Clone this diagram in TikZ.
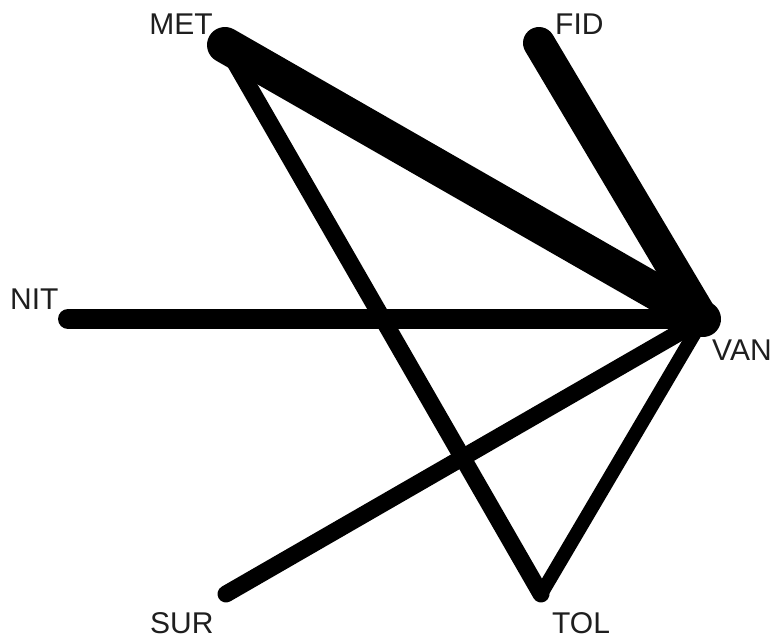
\documentclass[tikz,border=0pt]{standalone}
\usepackage{fontspec}
\setmainfont{Liberation Sans}
\usepackage{tikz}
\usetikzlibrary{positioning,calc}
\definecolor{Ink}{RGB}{0,0,0}
\definecolor{LabelInk}{RGB}{30,30,30}
\tikzset{
  tie/.style={draw=Ink,line cap=round},
  heavytie/.style={tie,line width=36pt},
  strongtie/.style={tie,line width=32pt},
  midtie/.style={tie,line width=20pt},
  lighttie/.style={tie,line width=17pt},
  thintie/.style={tie,line width=14pt},
  varlabel/.style={inner sep=0pt,text=LabelInk,font=\fontsize{30}{30}\selectfont}
}
\begin{document}
\begin{tikzpicture}[x=1pt,y=-1pt]
\fill[white] (0,0) rectangle (778,639);
\useasboundingbox (0,0) rectangle (778,639);
\coordinate (MET) at (225,45);
\coordinate (FID) at (539,43);
\coordinate (NIT) at (68,319);
\coordinate (VAN) at (703,319);
\coordinate (SUR) at (226,594);
\coordinate (TOL) at (541,594);

\draw[thintie](TOL)--(VAN);\draw[lighttie](MET)--(TOL);\draw[lighttie](SUR)--(VAN);\draw[midtie](NIT)--(VAN);
\draw[strongtie](FID)--(VAN);\draw[heavytie](MET)--(VAN);

\node[varlabel,anchor=base east] (metlab) at (213,35) {MET};
\node[varlabel,anchor=base west] (fidlab) at (555,35) {FID};
\node[varlabel,anchor=base west] (nitlab) at (10,309) {NIT};
\node[varlabel,anchor=base west] (vanlab) at (712,360) {VAN};
\node[varlabel,anchor=base west] (surlab) at (150,633) {SUR};
\node[varlabel,anchor=base west] (tollab) at (552,633) {TOL};
\end{tikzpicture}
\end{document}
